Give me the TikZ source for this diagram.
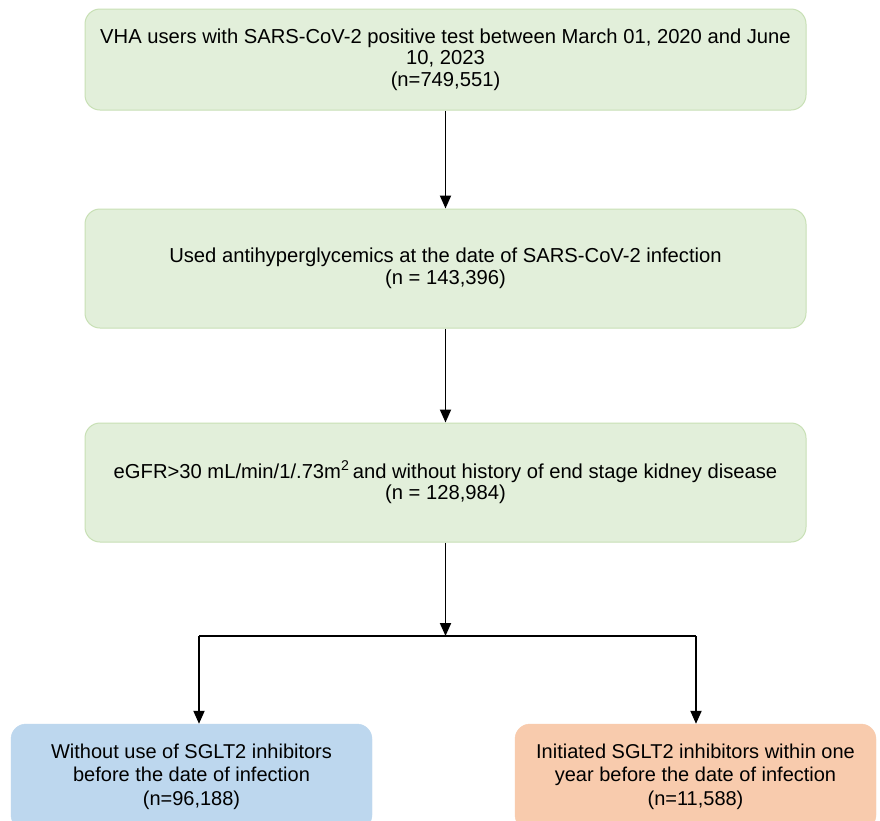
\documentclass[tikz,border=0pt]{standalone}
\usepackage{fontspec}
\setmainfont{Liberation Sans}
\usetikzlibrary{arrows.meta}
\definecolor{gfill}{HTML}{E2EFDA}
\definecolor{gdraw}{HTML}{C8E0B5}
\definecolor{bfill}{HTML}{BDD7EE}
\definecolor{ofill}{HTML}{F8CBAD}
\begin{document}
\begin{tikzpicture}[x=1pt,y=-1pt,
  box/.style={rectangle, rounded corners=15pt, inner sep=0pt, align=center,
    font=\fontsize{20.2}{21.5}\selectfont},
  gbox/.style={box, fill=gfill, draw=gdraw, line width=1pt, minimum width=721pt},
  conn/.style={line width=1.9pt, black},
  arr/.style={conn, -{Triangle[width=11pt,length=13pt]}}]
\useasboundingbox (0,0) rectangle (880,820);
\clip (0,0) rectangle (880,820);
\fill[white] (0,0) rectangle (880,820);
\node[gbox, minimum height=101pt] (b1) at (445.5,59.5)
  {VHA users with SARS-CoV-2 positive test between March 01, 2020 and June\\ 10, 2023\\ (n=749,551)};
\node[gbox, minimum height=119pt] (b2) at (445.5,268.5)
  {Used antihyperglycemics at the date of SARS-CoV-2 infection\\ (n = 143,396)};
\node[gbox, minimum height=119pt] (b3) at (445.5,482.5)
  {eGFR>30 mL/min/1/.73m\textsuperscript{2}\,and without history of end stage kidney disease\\ (n = 128,984)};
\node[box, fill=bfill, draw=bfill, minimum width=361pt, minimum height=106pt,
  font=\fontsize{20}{23.5}\selectfont] (bl) at (191.5,777)
  {\raisebox{5pt}{\begin{tabular}{@{}c@{}}Without use of SGLT2 inhibitors\\ before the date of infection\\ (n=96,188)\end{tabular}}};
\node[box, fill=ofill, draw=ofill, minimum width=361pt, minimum height=106pt,
  font=\fontsize{20}{23.5}\selectfont] (br) at (695.5,777)
  {\raisebox{5pt}{\begin{tabular}{@{}c@{}}Initiated SGLT2 inhibitors within one\\ year before the date of infection\\ (n=11,588)\end{tabular}}};
\coordinate (j) at (445.5,636);
\coordinate (jl) at (199,636);
\coordinate (jr) at (696,636);
\draw[arr] (b1.south) -- (b2.north);
\draw[arr] (b2.south) -- (b3.north);
\draw[arr] (b3.south) -- (j);
\draw[conn] (jl) -- (jr);
\draw[arr] (jl) -- (jl |- bl.north);
\draw[arr] (jr) -- (jr |- br.north);
\end{tikzpicture}
\end{document}
